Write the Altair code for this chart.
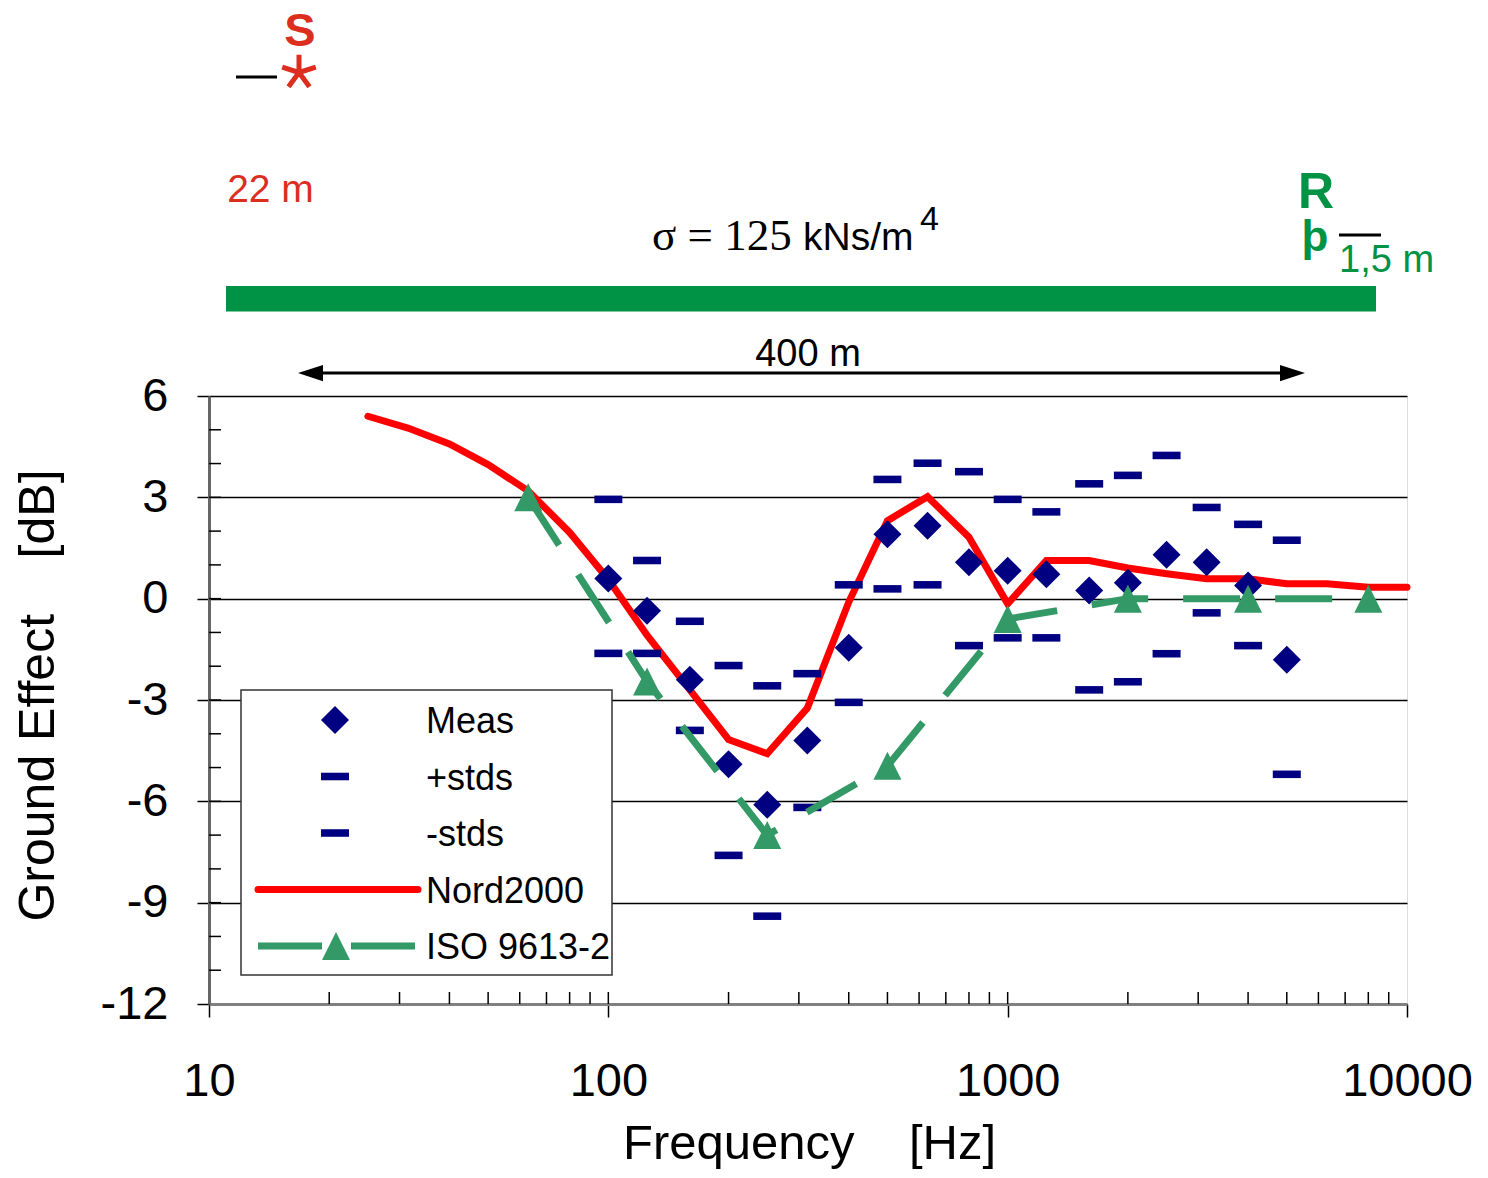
import altair as alt
import pandas as pd

# ---------------- data ----------------
freq_nord = [25, 31.5, 40, 50, 63, 80, 100, 125, 160, 200, 250, 315, 400, 500,
             630, 800, 1000, 1250, 1600, 2000, 2500, 3150, 4000, 5000, 6300, 8000, 10000]
nord2000 = [5.40, 5.05, 4.58, 3.97, 3.19, 1.96, 0.57, -1.08, -2.70, -4.17, -4.59, -3.24,
            -0.10, 2.31, 3.02, 1.82, -0.15, 1.13, 1.13, 0.91, 0.74, 0.59, 0.59, 0.44,
            0.44, 0.34, 0.34]

freq_iso = [63, 125, 250, 500, 1000, 2000, 4000, 8000]
iso9613 = [3.0, -2.45, -7.0, -4.95, -0.6, 0.0, 0.0, 0.0]

freq_meas = [100, 125, 160, 200, 250, 315, 400, 500, 630, 800, 1000, 1250, 1600,
             2000, 2500, 3150, 4000, 5000]
meas = [0.60, -0.36, -2.40, -4.90, -6.10, -4.20, -1.45, 1.91, 2.16, 1.08, 0.83, 0.72,
        0.24, 0.47, 1.30, 1.08, 0.39, -1.81]
plus_std = [2.94, 1.13, -0.67, -1.98, -2.58, -2.22, 0.41, 3.53, 4.01, 3.76, 2.94, 2.57,
            3.40, 3.65, 4.24, 2.70, 2.20, 1.73]
minus_std = [-1.62, -1.62, -3.90, -7.60, -9.40, -6.18, -3.07, 0.29, 0.41, -1.39, -1.16,
             -1.16, -2.70, -2.46, -1.63, -0.42, -1.39, -5.20]

x_tick_values = [10, 100, 1000, 10000]
x_minor_ticks = [20, 30, 40, 50, 60, 70, 80, 90, 100, 200, 300, 400, 500, 600, 700,
                 800, 900, 1000, 2000, 3000, 4000, 5000, 6000, 7000, 8000, 9000]
y_tick_values = [-12, -9, -6, -3, 0, 3, 6]
y_minor_ticks = [-11, -10, -9, -8, -7, -6, -5, -4, -3, -2, -1, 0, 1, 2, 3, 4, 5]

# ---------------- styling ----------------
W, H = 1198, 608
FONT = "Liberation Sans"
SERIF = "Liberation Serif"
RED = "#FF0000"
NAVY = "#000080"
ISO_GREEN = "#339966"
GROUND = "#009245"
LBL_RED = "#DC2E1F"

df_nord = pd.DataFrame({"f": freq_nord, "v": nord2000})
df_iso = pd.DataFrame({"f": freq_iso, "v": iso9613})
df_meas = pd.DataFrame({"f": freq_meas, "v": meas})
df_plus = pd.DataFrame({"f": freq_meas, "v": plus_std})
df_minus = pd.DataFrame({"f": freq_meas, "v": minus_std})
df_xminor = pd.DataFrame({"f": x_minor_ticks})
df_yminor = pd.DataFrame({"v": y_minor_ticks})

xscale = alt.Scale(type="log", domain=[10, 10000], nice=False)
yscale = alt.Scale(domain=[-12, 6], nice=False, zero=False)

x_axis = alt.Axis(
    values=x_tick_values, labelExpr="'' + datum.value",
    title="Frequency\u00a0\u00a0\u00a0\u00a0[Hz]",
    titleX=600, titleY=139, titleAlign="center", titleBaseline="middle",
    titleFont=FONT, titleFontSize=49, titleFontWeight="normal", titleColor="black",
    labelFont=FONT, labelFontSize=47, labelColor="black", labelPadding=41,
    tickSize=13, tickColor="black", tickWidth=1.5,
    domainColor="#808080", domainWidth=3, grid=False, labelFlush=False,
)
y_axis = alt.Axis(
    values=y_tick_values, labelExpr="'' + datum.value",
    title="Ground Effect\u00a0\u00a0\u00a0\u00a0[dB]",
    titleX=-171, titleY=299, titleAngle=270, titleAlign="center", titleBaseline="middle",
    titleFont=FONT, titleFontSize=50, titleFontWeight="normal", titleColor="black",
    labelFont=FONT, labelFontSize=47, labelColor="black", labelPadding=29,
    tickSize=12, tickColor="black", tickWidth=1.5,
    domainColor="#666666", domainWidth=3,
    grid=True, gridColor="black", gridWidth=1.5, labelFlush=False,
)

X = alt.X("f:Q", scale=xscale, axis=x_axis)
Y = alt.Y("v:Q", scale=yscale, axis=y_axis)

one = alt.Data(values=[{"k": 1}])

# ---------------- data layers ----------------
nord_line = alt.Chart(df_nord).mark_line(
    color=RED, strokeWidth=7, strokeCap="round", strokeJoin="miter"
).encode(x=X, y=Y)

meas_pts = alt.Chart(df_meas).mark_point(
    shape="diamond", filled=True, size=784, color=NAVY, opacity=1
).encode(x=X, y=Y)

DASH_SHAPE = "M-1,-0.27L1,-0.27L1,0.27L-1,0.27Z"
plus_pts = alt.Chart(df_plus).mark_point(
    shape=DASH_SHAPE, filled=True, size=784, color=NAVY, opacity=1
).encode(x=X, y=Y)
minus_pts = alt.Chart(df_minus).mark_point(
    shape=DASH_SHAPE, filled=True, size=784, color=NAVY, opacity=1
).encode(x=X, y=Y)

iso_line = alt.Chart(df_iso).mark_line(
    color=ISO_GREEN, strokeWidth=7, strokeDash=[57, 35], strokeCap="butt"
).encode(x=X, y=Y)
TRI_SHAPE = "M0,-1L1,1L-1,1Z"
iso_pts = alt.Chart(df_iso).mark_point(
    shape=TRI_SHAPE, filled=True, size=784, color=ISO_GREEN, opacity=1
).encode(x=X, y=Y)

# minor (inward) ticks
y_minor = alt.Chart(df_yminor).mark_rule(color="black", strokeWidth=1.5).encode(
    y=Y, x=alt.value(0), x2=alt.value(12))
x_minor = alt.Chart(df_xminor).mark_rule(color="black", strokeWidth=1.5).encode(
    x=X, y=alt.value(H), y2=alt.value(H - 12))


# ---------------- annotation helpers ----------------
def txt(s, x, y, size, color="black", font=FONT, weight="normal", align="left",
        baseline="alphabetic"):
    return alt.Chart(one).mark_text(
        text=s, fontSize=size, font=font, fontWeight=weight, color=color,
        align=align, baseline=baseline
    ).encode(x=alt.value(x), y=alt.value(y))


def hline(x1, x2, y, color="black", width=3, dash=None, cap="butt"):
    kw = dict(color=color, strokeWidth=width, strokeCap=cap)
    if dash:
        kw["strokeDash"] = dash
    return alt.Chart(one).mark_rule(**kw).encode(
        x=alt.value(x1), x2=alt.value(x2), y=alt.value(y))


def symbol(shape, x, y, size, color, filled=True, stroke_width=1):
    if filled:
        m = alt.Chart(one).mark_point(shape=shape, filled=True, size=size,
                                      color=color, opacity=1)
    else:
        m = alt.Chart(one).mark_point(shape=shape, filled=False, size=size,
                                      stroke=color, strokeWidth=stroke_width,
                                      opacity=1, strokeCap="butt")
    return m.encode(x=alt.value(x), y=alt.value(y))


STAR = ("M0,0L0,-1M0,0L0.95,-0.31M0,0L0.59,0.81M0,0L-0.59,0.81M0,0L-0.95,-0.31")
ARROW_L = "M-1,0L1,-0.65L1,0.65Z"
ARROW_R = "M1,0L-1,-0.65L-1,0.65Z"

annotations = [
    # source
    txt("S", 91, -350, 47, LBL_RED, weight="bold", align="center"),
    hline(27, 68, -319, "black", 3),
    symbol(STAR, 90, -323.5, 1253, LBL_RED, filled=False, stroke_width=5),
    txt("22 m", 61.5, -194, 39, LBL_RED, align="center"),
    # ground
    alt.Chart(one).mark_rect(color=GROUND).encode(
        x=alt.value(17), x2=alt.value(1167), y=alt.value(-110), y2=alt.value(-84.5)),
    txt("\u03c3 = 125", 443, -146, 45, "black", font=SERIF),
    txt("kNs/m", 594, -146, 39, "black"),
    txt("4", 711, -166, 34, "black"),
    # receiver
    txt("R", 1107, -188, 50, GROUND, weight="bold", align="center"),
    txt("\u00fe", 1106, -145, 44, GROUND, weight="bold", align="center"),
    hline(1130, 1172, -161, "black", 3),
    txt("1,5 m", 1130, -124, 38, GROUND),
    # distance arrow
    txt("400 m", 599, -30, 38, "black", align="center"),
    hline(100, 1085, -23, "black", 3),
    symbol(ARROW_L, 101.5, -23, 625, "black"),
    symbol(ARROW_R, 1083.5, -23, 625, "black"),
]

# ---------------- legend (drawn inside the plot) ----------------
LX1, LX2, LY1, LY2 = 32, 403, 294, 579
rows = [324, 380.5, 437, 493.5, 550]
legend = [
    alt.Chart(one).mark_rect(fill="white", stroke="#333333", strokeWidth=1.5).encode(
        x=alt.value(LX1), x2=alt.value(LX2), y=alt.value(LY1), y2=alt.value(LY2)),
    symbol("diamond", 126, rows[0], 784, NAVY),
    symbol(DASH_SHAPE, 126, rows[1], 784, NAVY),
    symbol(DASH_SHAPE, 126, rows[2], 784, NAVY),
    hline(49, 209, rows[3], RED, 7, cap="round"),
    hline(49, 208, rows[4], ISO_GREEN, 7, dash=[64, 29]),
    symbol(TRI_SHAPE, 127, rows[4], 784, ISO_GREEN),
]
labels = ["Meas", "+stds", "-stds", "Nord2000", "ISO 9613-2"]
for lab, ry in zip(labels, rows):
    legend.append(txt(lab, 217, ry + 13, 36, "black"))

chart = alt.layer(
    x_minor, y_minor,
    nord_line, meas_pts, plus_pts, minus_pts, iso_line, iso_pts,
    *legend, *annotations,
).properties(
    width=W, height=H,
    autosize=alt.AutoSizeParams(type="none"),
    padding={"left": 201, "top": 388, "right": 71, "bottom": 166},
).configure_view(
    stroke="#888888", strokeWidth=3
).configure(background="white")

chart.save("out.html", embed_options={"renderer": "svg", "actions": False})
